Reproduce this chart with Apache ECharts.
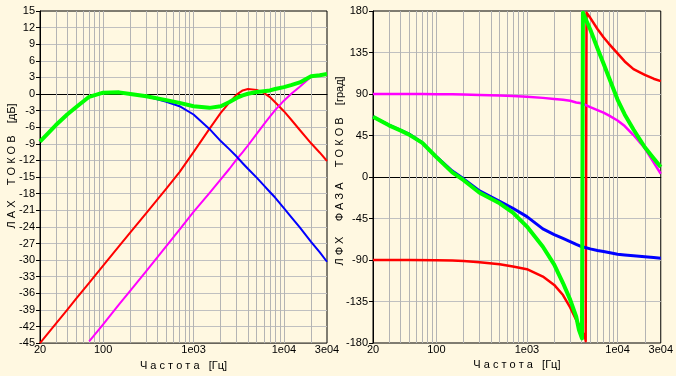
<!DOCTYPE html>
<html>
<head>
<meta charset="utf-8">
<script src="https://cdn.jsdelivr.net/npm/echarts@6/dist/echarts.min.js"></script>
<style>
  html, body { margin: 0; padding: 0; background: #FFF8E1; }
  #main { width: 676px; height: 376px; }
</style>
</head>
<body>
<div id="main"></div>
<script>
// частоты, Гц
const freqs = [20, 30, 40, 50, 70, 100, 150, 200, 300, 500, 700, 1000, 1500, 2000, 2500, 3000, 3500, 4000,
  5000, 6000, 7000, 8000, 10000, 12000, 15000, 20000, 25000, 30000];

// ЛАХ, дБ
const ampRed   = [-45, -41.5, -39.0, -37.0, -34.1, -31.0, -27.5, -25.0, -21.5, -17.1, -14.1, -10.5, -6.3, -3.4, -1.5, -0.1, 0.65, 0.9,
  0.75, 0.2, -0.55, -1.5, -3.1, -4.6, -6.5, -8.9, -10.6, -12.1];
const ampMag   = [null, null, null, null, -44.7, -41.6, -38.0, -35.5, -32.0, -27.5, -24.5, -21.3, -17.9, -15.4, -13.5, -11.8, -10.5, -9.3,
  -7.2, -5.5, -4.1, -2.9, -1.2, 0.0, 1.3, 3.1, 3.5, 3.6];
const ampBlue  = [-8.6, -5.6, -3.7, -2.4, -0.5, 0.25, 0.3, 0.0, -0.4, -1.4, -2.2, -3.7, -6.3, -8.5, -10.0, -11.3, -12.5, -13.5,
  -15.1, -16.5, -17.7, -18.7, -20.6, -22.2, -24.1, -26.7, -28.6, -30.3];
const ampGreen = [-8.6, -5.6, -3.7, -2.4, -0.5, 0.25, 0.3, 0.0, -0.4, -1.1, -1.6, -2.2, -2.5, -2.2, -1.45, -0.7, -0.25, 0.05,
  0.35, 0.5, 0.65, 0.9, 1.25, 1.6, 2.1, 3.2, 3.4, 3.6];

// ЛФХ, град
const phaseMag  = [90, 90, 90, 90, 90, 89.8, 89.6, 89.5, 89, 88.3, 87.8, 87, 85.8, 84.7, 83.7, 82.6, 80.8, 80,
  75.8, 72.6, 69.9, 66.8, 61.3, 55.2, 45.5, 31.2, 15.9, 3.5];
const phaseBlue = [65.3, 56.3, 50.9, 46.5, 37.1, 22, 6.5, -2, -15, -26.3, -33.9, -43, -56.3, -62.4, -66.5, -70, -73, -75.4,
  -77.9, -79.7, -80.8, -81.9, -83.7, -84.6, -85.5, -86.6, -87.3, -88];

const redPhaseFreqs = [20, 30, 50, 100, 150, 200, 300, 500, 700, 1000, 1500, 2000, 2500, 3000, 3500, 4000, 4400, 4450,
  4550, 5000, 6000, 7000, 8000, 10000, 12000, 15000, 20000, 25000, 30000];
const phaseRed      = [-90, -90, -90, -90.3, -90.6, -91, -92.5, -94.5, -97, -100, -108, -117, -128, -141.5, -155, -165, -175, -178,
  178, 172.6, 160.5, 151.5, 144.7, 134, 125.3, 117, 110.8, 106.6, 104];

const greenPhaseFreqs = [20, 30, 40, 50, 70, 100, 150, 200, 300, 500, 700, 1000, 1500, 2000, 2500, 3000, 3500, 3750, 4050,
  4150, 5000, 6000, 7000, 8000, 10000, 12000, 15000, 20000, 25000, 30000];
const phaseGreen      = [65.3, 56, 50.5, 46, 37, 21.5, 5, -3.5, -17.1, -28.5, -38.6, -53.8, -75.6, -95, -115, -133, -151.5, -165.6, -175,
  178, 160, 139.6, 123, 108.5, 84, 67.8, 51.5, 32.3, 20.4, 10.8];

// оси
const labelFreqs = [20, 100, 1000, 10000, 30000];
const labelTexts = ['20', '100', '1e03', '1e04', '3e04'];
const tickFreqs = [100, 1000, 10000];
const gridFreqs = [30, 40, 50, 60, 70, 80, 90, 100, 200, 300, 400, 500, 600, 700, 800, 900,
  1000, 2000, 3000, 4000, 5000, 6000, 7000, 8000, 9000, 10000, 20000];

const font = 'Arial, "Liberation Sans", sans-serif';

function pairs(xs, ys) {
  return xs.map((f, i) => [f, ys[i]]);
}

function freqAxis(gridIndex) {
  return {
    type: 'log', logBase: 10, gridIndex: gridIndex, min: 20, max: 30000,
    name: 'Ч а с т о т а   [Гц]', nameLocation: 'middle', nameGap: 12,
    nameTextStyle: { color: '#000', fontSize: 11, fontFamily: font },
    axisLine: { lineStyle: { color: '#000', width: 1 } },
    axisTick: { inside: true, length: 5, customValues: tickFreqs, lineStyle: { color: '#000' } },
    axisLabel: {
      customValues: labelFreqs, margin: 1, color: '#000', fontSize: 11, fontFamily: font,
      formatter: function (v) {
        const i = labelFreqs.findIndex(f => Math.abs(Math.log10(f) - Math.log10(v)) < 1e-6);
        return i >= 0 ? labelTexts[i] : '';
      }
    },
    splitLine: { show: false },
    minorTick: { show: false }
  };
}

function levelAxis(gridIndex, min, max, interval) {
  return {
    type: 'value', gridIndex: gridIndex, min: min, max: max, interval: interval,
    axisLine: { show: true, lineStyle: { color: '#000' } },
    axisTick: { show: true, length: 4, lineStyle: { color: '#000' } },
    axisLabel: { margin: 5, color: '#000', fontSize: 11, fontFamily: font },
    splitLine: { show: true, showMinLine: false, showMaxLine: false, lineStyle: { color: '#c0c0c0', width: 1 } }
  };
}

// вертикальная логарифмическая сетка
function gridLines() {
  return {
    silent: true, z: 1, animation: false,
    symbol: ['none', 'none'],
    label: { show: false },
    emphasis: { disabled: true },
    lineStyle: { color: '#b4b4b4', type: 'solid', width: 1 },
    data: gridFreqs.map(f => ({ xAxis: f }))
  };
}

function line(idx, data, color, width, extra) {
  return Object.assign({
    type: 'line', xAxisIndex: idx, yAxisIndex: idx, data: data,
    showSymbol: false, symbol: 'none', smooth: false,
    lineStyle: { color: color, width: width, join: 'round' }, itemStyle: { color: color },
    z: 3
  }, extra || {});
}

const chart = echarts.init(document.getElementById('main'));
chart.setOption({
  animation: false,
  backgroundColor: '#FFF8E1',
  grid: [
    { left: 40, top: 11, width: 287, height: 334, show: true, borderColor: '#000', borderWidth: 1, backgroundColor: 'transparent' },
    { left: 373, top: 11, width: 289, height: 332, show: true, borderColor: '#000', borderWidth: 1, backgroundColor: 'transparent' }
  ],
  xAxis: [freqAxis(0), freqAxis(1)],
  yAxis: [levelAxis(0, -45, 15, 3), levelAxis(1, -180, 180, 45)],
  graphic: [
    {
      type: 'text', x: 12, y: 166, rotation: Math.PI / 2,
      style: { text: 'Л А Х     Т О К О В    [дБ]', fill: '#000', font: '11px ' + font, align: 'center', verticalAlign: 'middle' }
    },
    {
      type: 'text', x: 340, y: 171, rotation: Math.PI / 2,
      style: { text: 'Л Ф Х     Ф А З А     Т О К О В    [град]', fill: '#000', font: '11px ' + font, align: 'center', verticalAlign: 'middle' }
    }
  ],
  series: [
    line(0, pairs(freqs, ampRed), '#ff0000', 2, { markLine: gridLines() }),
    line(0, pairs(freqs, ampMag), '#ff00ff', 2),
    line(0, pairs(freqs, ampBlue), '#0000ff', 2),
    line(0, pairs(freqs, ampGreen), '#00ff00', 4),
    line(1, pairs(redPhaseFreqs, phaseRed), '#ff0000', 2.5, { markLine: gridLines() }),
    line(1, pairs(freqs, phaseMag), '#ff00ff', 2.5),
    line(1, pairs(freqs, phaseBlue), '#0000ff', 3),
    line(1, pairs(greenPhaseFreqs, phaseGreen), '#00ff00', 4)
  ]
});
</script>
</body>
</html>
